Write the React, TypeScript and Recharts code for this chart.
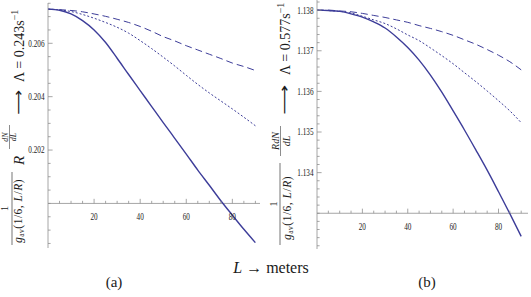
import React from 'react';
import { LineChart, Line, XAxis, YAxis, ReferenceLine } from 'recharts';

// ---------- data ----------
const L_METERS = [0, 5, 10, 15, 20, 25, 30, 35, 40, 45, 50, 55, 60, 65, 70, 75, 80, 85, 90];

// panel (a): Lambda = 0.243 s^-1
const A_SOLID = [0.20728, 0.20724, 0.2071, 0.20685, 0.2065, 0.20603, 0.20544, 0.20483, 0.20423, 0.20363, 0.20303, 0.20244, 0.20185, 0.20125, 0.20068, 0.2001, 0.19956, 0.19903, 0.19853];
const A_DOTTED = [0.20728, 0.20725, 0.20719, 0.20708, 0.20694, 0.20678, 0.2066, 0.20638, 0.2061, 0.2058, 0.20548, 0.20515, 0.2048, 0.20446, 0.20414, 0.20384, 0.20354, 0.20323, 0.20291];
const A_DASHED = [0.20728, 0.20726, 0.20723, 0.20718, 0.2071, 0.20701, 0.2069, 0.20678, 0.20663, 0.20645, 0.20625, 0.20609, 0.20591, 0.20575, 0.20559, 0.20543, 0.20526, 0.20513, 0.20498];

// panel (b): Lambda = 0.577 s^-1
const B_SOLID = [1.138, 1.13799, 1.13797, 1.13791, 1.13783, 1.13771, 1.13756, 1.13734, 1.13708, 1.13677, 1.1364, 1.13598, 1.13552, 1.13505, 1.13456, 1.13406, 1.13353, 1.13299, 1.13243];
const B_DOTTED = [1.138, 1.13799, 1.13797, 1.13793, 1.13785, 1.13776, 1.13767, 1.13754, 1.13739, 1.13725, 1.13707, 1.13688, 1.13668, 1.13646, 1.13624, 1.13601, 1.13577, 1.13552, 1.13523];
const B_DASHED = [1.138, 1.138, 1.13798, 1.13796, 1.13792, 1.13787, 1.13782, 1.13776, 1.1377, 1.13762, 1.13755, 1.13747, 1.13738, 1.13727, 1.13716, 1.13703, 1.13689, 1.13673, 1.13653];

// ticks
const X_TICKS = [5, 10, 15, 20, 25, 30, 35, 40, 45, 50, 55, 60, 65, 70, 75, 80, 85, 90];
const X_LABELED = [20, 40, 60, 80];
const A_Y_TICKS = [0.1985, 0.199, 0.1995, 0.2, 0.2005, 0.201, 0.2015, 0.202, 0.2025, 0.203, 0.2035, 0.204, 0.2045, 0.205, 0.2055, 0.206, 0.2065, 0.207, 0.2075];
const A_Y_LABELED = [0.202, 0.204, 0.206];
const B_Y_TICKS = [1.1322, 1.1324, 1.1326, 1.1328, 1.133, 1.1332, 1.1334, 1.1336, 1.1338, 1.134, 1.1342, 1.1344, 1.1346, 1.1348, 1.135, 1.1352, 1.1354, 1.1356, 1.1358, 1.136, 1.1362, 1.1364, 1.1366, 1.1368, 1.137, 1.1372, 1.1374, 1.1376, 1.1378, 1.138, 1.1382];
const B_Y_LABELED = [1.134, 1.135, 1.136, 1.137, 1.138];

// ---------- styling ----------
const SERIF = "'Liberation Serif', 'Times New Roman', serif";
const CURVE = '#3d3d99';
const AXIS = '#8f8f8f';
const INK = '#1a1a1a';

function buildRows(solid: number[], dotted: number[], dashed: number[]) {
  return L_METERS.map((L, i) => ({ L, solid: solid[i], dotted: dotted[i], dashed: dashed[i] }));
}

const ROWS_A = buildRows(A_SOLID, A_DOTTED, A_DASHED);
const ROWS_B = buildRows(B_SOLID, B_DOTTED, B_DASHED);

function tickTextLength(s: string) {
  let n = 0;
  for (const ch of s) n += ch === '.' ? 1.8 : 3.6;
  return n;
}

type PanelProps = {
  rows: any[];
  width: number;
  height: number;
  margin: { top: number; right: number; bottom: number; left: number };
  yAxisWidth: number;
  xDomain: [number, number];
  yDomain: [number, number];
  yTicks: number[];
  yLabeled: number[];
  yOrigin: number;
};

function Panel(p: PanelProps) {
  const xAxisHeight = 1;
  const plotH = p.height - p.margin.top - p.margin.bottom - xAxisHeight;
  const originOffset = (plotH * (p.yOrigin - p.yDomain[0])) / (p.yDomain[1] - p.yDomain[0]);

  const XTick = (t: any) => {
    const v = t.payload.value;
    const major = X_LABELED.includes(v);
    const yy = t.y - originOffset;
    const s = String(v);
    return (
      <g>
        <line x1={t.x} x2={t.x} y1={yy} y2={yy - (major ? 4.6 : 2.6)} stroke={AXIS} strokeWidth={0.8} />
        {major && (
          <text x={t.x} y={yy + 17} textAnchor="middle" fontSize={10} fontFamily={SERIF} fill={INK}
            textLength={tickTextLength(s)} lengthAdjust="spacingAndGlyphs">{s}</text>
        )}
      </g>
    );
  };

  const YTick = (t: any) => {
    const v = t.payload.value;
    const major = p.yLabeled.includes(v);
    const s = v.toFixed(3);
    return (
      <g>
        <line x1={t.x} x2={t.x + (major ? 4.6 : 2.6)} y1={t.y} y2={t.y} stroke={AXIS} strokeWidth={0.8} />
        {major && (
          <text x={t.x - 3.5} y={t.y + 3.4} textAnchor="end" fontSize={10} fontFamily={SERIF} fill={INK}
            textLength={tickTextLength(s)} lengthAdjust="spacingAndGlyphs">{s}</text>
        )}
      </g>
    );
  };

  return (
    <LineChart width={p.width} height={p.height} data={p.rows} margin={p.margin}>
      <XAxis dataKey="L" type="number" domain={p.xDomain} ticks={X_TICKS} interval={0} height={xAxisHeight}
        tickSize={0} tickMargin={0} axisLine={false} tickLine={false} tick={XTick} allowDataOverflow />
      <YAxis type="number" domain={p.yDomain} ticks={p.yTicks} interval={0} width={p.yAxisWidth}
        tickSize={0} tickMargin={0} axisLine={{ stroke: AXIS, strokeWidth: 0.8 }} tickLine={false} tick={YTick} allowDataOverflow />
      <ReferenceLine y={p.yOrigin} stroke={AXIS} strokeWidth={0.8} />
      <Line dataKey="dashed" type="monotone" stroke={CURVE} strokeWidth={1} strokeDasharray="7 4" dot={false} isAnimationActive={false} />
      <Line dataKey="dotted" type="monotone" stroke={CURVE} strokeWidth={1} strokeDasharray="2 2" dot={false} isAnimationActive={false} />
      <Line dataKey="solid" type="monotone" stroke={CURVE} strokeWidth={1.4} dot={false} isAnimationActive={false} />
    </LineChart>
  );
}

function GDenominator({ x, y }: { x: number; y: number }) {
  return (
    <text x={x} y={y} fontSize={11.5} fontFamily={SERIF} fill={INK} letterSpacing={0.5}>
      <tspan fontStyle="italic">g</tspan>
      <tspan fontSize={7.5} dy={2}>av</tspan>
      <tspan dy={-2}>(1/6, </tspan>
      <tspan fontStyle="italic">L</tspan>
      <tspan>/</tspan>
      <tspan fontStyle="italic">R</tspan>
      <tspan>)</tspan>
    </text>
  );
}

function Labels() {
  return (
    <svg width={531} height={297} style={{ position: 'absolute', left: 0, top: 0, pointerEvents: 'none' }}>
      {/* left y label */}
      <g transform="translate(24,248) rotate(-90)" fontFamily={SERIF} fill={INK}>
        <text x={39.5} y={-16} fontSize={10} textAnchor="middle">1</text>
        <line x1={3} x2={76} y1={-12} y2={-12} stroke={INK} strokeWidth={0.6} />
        <GDenominator x={5} y={-2} />
        <text x={83} y={0} fontSize={15} fontStyle="italic">R</text>
        <text x={111} y={-16.5} fontSize={8} fontStyle="italic" textAnchor="middle">dN</text>
        <line x1={99} x2={123} y1={-14.5} y2={-14.5} stroke={INK} strokeWidth={0.5} />
        <text x={111} y={-8.5} fontSize={8} fontStyle="italic" textAnchor="middle">dL</text>
        <text x={133} y={-1} fontSize={14} fontFamily="'DejaVu Sans', sans-serif" textLength={25} lengthAdjust="spacingAndGlyphs">⟶</text>
        <text x={166} y={0} fontSize={14}>Λ = 0.243s<tspan dy={-6} fontSize={10}>−1</tspan></text>
      </g>
      {/* right y label */}
      <g transform="translate(290,248) rotate(-90)" fontFamily={SERIF} fill={INK}>
        <text x={44} y={-13} fontSize={10} textAnchor="middle">1</text>
        <line x1={3} x2={85} y1={-10} y2={-10} stroke={INK} strokeWidth={0.6} />
        <GDenominator x={8} y={1} />
        <text x={107} y={-11.5} fontSize={10} fontStyle="italic" textAnchor="middle">RdN</text>
        <line x1={92} x2={122} y1={-9.5} y2={-9.5} stroke={INK} strokeWidth={0.5} />
        <text x={107} y={0} fontSize={10} fontStyle="italic" textAnchor="middle">dL</text>
        <text x={133} y={-1} fontSize={14} fontFamily="'DejaVu Sans', sans-serif" textLength={30} lengthAdjust="spacingAndGlyphs">⟶</text>
        <text x={173} y={0} fontSize={14}>Λ = 0.577s<tspan dy={-6} fontSize={10}>−1</tspan></text>
      </g>
      {/* x label and panel captions */}
      <text x={271} y={273} fontSize={16} fontFamily={SERIF} fill={INK} textAnchor="middle">
        <tspan fontStyle="italic">L</tspan> → meters
      </text>
      <text x={114} y={287} fontSize={15} fontFamily={SERIF} fill={INK} textAnchor="middle">(a)</text>
      <text x={427} y={287} fontSize={15} fontFamily={SERIF} fill={INK} textAnchor="middle">(b)</text>
    </svg>
  );
}

export default function App() {
  return (
    <div style={{ position: 'absolute', left: 0, top: 0, width: 531, height: 297, background: '#fff', overflow: 'hidden' }}>
      <div style={{ position: 'absolute', left: 0, top: 0 }}>
        <Panel rows={ROWS_A} width={270} height={297} margin={{ top: 3, right: 10, bottom: 48, left: 0 }}
          yAxisWidth={48} xDomain={[0, 92]} yDomain={[0.19833, 0.20751]}
          yTicks={A_Y_TICKS} yLabeled={A_Y_LABELED} yOrigin={0.2} />
      </div>
      <div style={{ position: 'absolute', left: 270, top: 0 }}>
        <Panel rows={ROWS_B} width={261} height={297} margin={{ top: 0, right: 3, bottom: 47, left: 0 }}
          yAxisWidth={47} xDomain={[0, 93]} yDomain={[1.13212, 1.13825]}
          yTicks={B_Y_TICKS} yLabeled={B_Y_LABELED} yOrigin={1.133} />
      </div>
      <Labels />
    </div>
  );
}
